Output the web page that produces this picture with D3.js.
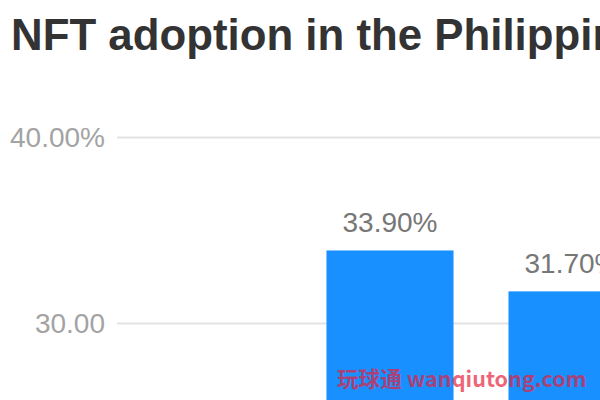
<!DOCTYPE html>
<html>
<head>
<meta charset="utf-8">
<script src="https://cdn.jsdelivr.net/npm/d3@7"></script>
<style>
  html, body { margin: 0; padding: 0; overflow: hidden; background: #fff; }
  #canvas { width: 600px; height: 400px; overflow: hidden; }
</style>
</head>
<body>
<div id="canvas"></div>
<script>
"use strict"

/* chart data (only the part of the chart that is in view) */
let categories = ["A", "B"];
let values = [33.9, 31.7];
let tickValues = [0, 10, 20, 30, 40];
let tickLabels = ["0.00", "10.00", "20.00", "30.00", "40.00%"];
let title = "NFT adoption in the Philippines";
let watermark = "玩球通 wanqiutong.com";

let drawing = d3.select("#canvas")
    .append("svg")
    .attr("width", 1000)
    .attr("height", 950);

/* band step is 182px, first visible bar starts one step after the plot edge */
let x = d3.scaleBand()
    .domain(categories)
    .range([299, 299 + categories.length * 182])
    .paddingInner(0.302)
    .paddingOuter(0.151);

let y = d3.scaleLinear()
    .domain([0, 40])
    .range([881, 137]);

/* title */
drawing.append("text")
    .attr("x", 11)
    .attr("y", 50)
    .attr("font-family", "Liberation Sans, Arial, sans-serif")
    .attr("font-weight", "bold")
    .attr("font-size", 43.8)
    .attr("fill", "#333333")
    .text(title);

/* y axis: gridlines and labels */
let yAxis = drawing.append("g")
    .attr("transform", "translate(117,0)")
    .call(d3.axisLeft(y)
      .tickValues(tickValues)
      .tickSize(-900)
      .tickPadding(12)
      .tickFormat((d, i) => tickLabels[i]));

yAxis.select(".domain").remove();
yAxis.selectAll(".tick line")
    .attr("stroke", "#e3e3e3")
    .attr("stroke-width", 2);
yAxis.selectAll(".tick text")
    .attr("font-family", "Liberation Sans, Arial, sans-serif")
    .attr("font-size", 28)
    .attr("fill", "#a3a3a3")
    .attr("dy", "0.35em");

/* bars */
drawing.append("g")
  .selectAll("rect")
  .data(values)
  .join("rect")
    .attr("x", (d, i) => x(categories[i]))
    .attr("y", d => y(d))
    .attr("width", x.bandwidth())
    .attr("height", d => y(0) - y(d))
    .attr("fill", "#1890ff");

/* value labels */
drawing.append("g")
  .selectAll("text")
  .data(values)
  .join("text")
    .attr("x", (d, i) => x(categories[i]) + x.bandwidth() / 2)
    .attr("y", d => y(d) - 18)
    .attr("text-anchor", "middle")
    .attr("font-family", "Liberation Sans, Arial, sans-serif")
    .attr("font-size", 28)
    .attr("fill", "#777777")
    .text(d => d.toFixed(2) + "%");

/* watermark */
drawing.append("text")
    .attr("x", 337)
    .attr("y", 387)
    .attr("font-family", "Noto Sans CJK SC, Noto Sans, sans-serif")
    .attr("font-weight", "bold")
    .attr("font-size", 21.6)
    .attr("fill", "rgba(232, 30, 60, 0.7)")
    .text(watermark);
</script>
</body>
</html>
